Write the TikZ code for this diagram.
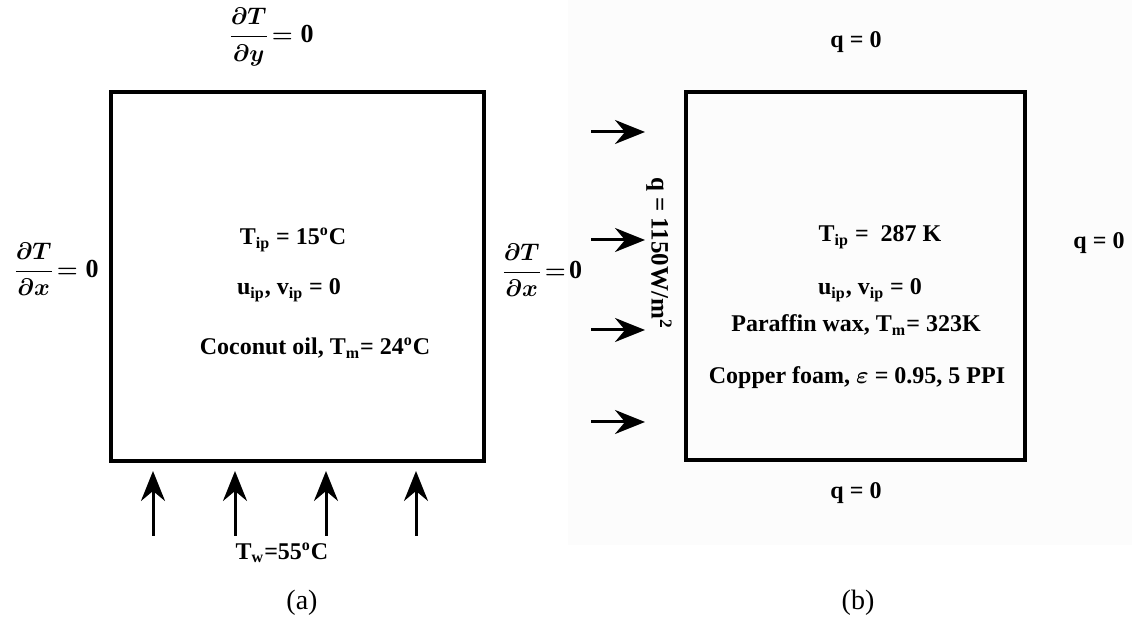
\documentclass[tikz,border=0pt]{standalone}
\usepackage{amsmath,amssymb}
\usepackage{fontspec}
\setmainfont{Liberation Serif}
\usetikzlibrary{arrows.meta}

\tikzset{
  wall/.style={line width=1.6pt},
  flux/.style={line width=1.5pt, -{Stealth[length=15pt,width=12pt,inset=5pt]}},
  lbl/.style={font=\fontsize{12}{14}\selectfont\bfseries, inner sep=0pt},
  bc/.style={font=\fontsize{13}{15}\selectfont\boldmath, inner sep=0pt, anchor=west},
  caption/.style={font=\fontsize{14}{16}\selectfont, inner sep=0pt}
}

\begin{document}
\begin{tikzpicture}[x=0.5pt, y=-0.5pt]
	\useasboundingbox (0,0) rectangle (1132,625);
	\fill[gray!2] (568,0) rectangle (1132,545);
	% (a) cavity heated from below
	\draw[wall] (111,92) rectangle (484,461);
	\node[bc] (topa) at (228,37) {$\dfrac{\partial T}{\partial y}\!= \textbf{0}$};
	\node[bc] (lefta) at (13,269) {$\dfrac{\partial T}{\partial x}\!= \textbf{0}$};
	\node[bc] (righta) at (501,270) {$\dfrac{\partial T}{\partial x}\!=\!\textbf{0}$};
	\node[lbl] (tipa) at (293,240) {T\textsubscript{ip} = 15\textsuperscript{o}C};
	\node[lbl] (uva) at (289,290) {u\textsubscript{ip}, v\textsubscript{ip} = 0};
	\node[lbl] (pcma) at (315,348) {Coconut oil, T\textsubscript{m}= 24\textsuperscript{o}C};
	\foreach \x [count=\i] in {153,235,326,416} {
		\coordinate (ta\i) at (\x,536);
		\coordinate (ha\i) at (\x,471);
		\draw[flux] (ta\i) -- (ha\i);
	}
	\node[lbl] (twa) at (282,553) {T\textsubscript{w}=55\textsuperscript{o}C};
	\node[caption] (capa) at (302,603) {(a)};
	% (b) cavity heated from the left
	\draw[wall] (686,92) rectangle (1025,460);
	\node[lbl] (topb) at (856,42) {q = 0};
	\node[lbl] (rightb) at (1099,243) {q = 0};
	\node[lbl] (botb) at (856,493) {q = 0};
	\foreach \y [count=\i] in {132,240,330,422} {
		\coordinate (tb\i) at (591,\y);
		\coordinate (hb\i) at (645,\y);
		\draw[flux] (tb\i) -- (hb\i);
	}
	\node[lbl, rotate=-90, font=\fontsize{12.5}{14}\selectfont\bfseries] (qb) at (659,253) {q = 1150W/m\textsuperscript{2}};
	\node[lbl] (tipb) at (880,237) {T\textsubscript{ip} =\ \ 287 K};
	\node[lbl] (uvb) at (870,290) {u\textsubscript{ip}, v\textsubscript{ip} = 0};
	\node[lbl] (pcmb) at (856,325) {Paraffin wax, T\textsubscript{m}= 323K};
	\node[lbl] (foamb) at (857,378) {Copper foam, $\boldsymbol{\varepsilon}$ = 0.95, 5 PPI};
	\node[caption] (capb) at (858,603) {(b)};
\end{tikzpicture}
\end{document}
